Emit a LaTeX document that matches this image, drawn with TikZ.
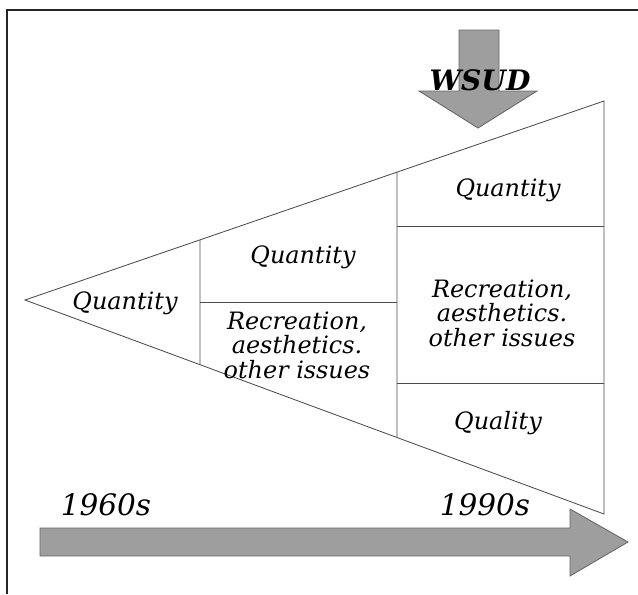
\documentclass[tikz,border=0pt]{standalone}
\usepackage{fontspec}
\setmainfont{DejaVu Serif}
\usepackage{tikz}
\usetikzlibrary{calc,positioning}

\tikzset{
  lbl/.style={font=\itshape\fontsize{17}{17.5}\selectfont, align=center, inner sep=0pt},
  yearlbl/.style={font=\itshape\fontsize{21}{24}\selectfont, inner sep=0pt},
  part/.style={draw=black!70, line width=0.6pt},
  band/.style={fill=black!38, draw=black!60, line width=0.6pt}
}

\begin{document}
\begin{tikzpicture}[x=0.025cm,y=-0.025cm]
\useasboundingbox (0,0) rectangle (638,594);
% frame
\draw[line width=1.5pt, black!85] (7,594) -- (7,10) -- (638,10);
% triangle
\coordinate (A) at (25,300);
\coordinate (B) at (604,101);
\coordinate (C) at (604,514);
\coordinate (P) at (200,0);
\coordinate (P2) at (200,600);
\coordinate (Q) at (397,0);
\coordinate (Q2) at (397,600);
\coordinate (D) at (intersection of A--B and P--P2);
\coordinate (E) at (intersection of A--C and P--P2);
\coordinate (F) at (intersection of A--B and Q--Q2);
\coordinate (G) at (intersection of A--C and Q--Q2);
\draw[part] (A) -- (B) -- (C) -- cycle;
\draw[part] (D) -- (E) (F) -- (G);
\draw[part] (200,302) coordinate (M1) -- (397,302) coordinate (M2);
\draw[part] (397,226) coordinate (R1) -- (604,226) coordinate (R2);
\draw[part] (397,383) coordinate (R3) -- (604,383) coordinate (R4);
% labels
\node[lbl] (q1) at (125,303) {Quantity};
\node[lbl] (q2) at (303,257) {Quantity};
\node[lbl] (rec2) at (297,345) {Recreation,\\aesthetics.\\other issues};
\node[lbl] (q3) at (508,190) {Quantity};
\node[lbl] (rec3) at (502,313) {Recreation,\\aesthetics.\\other issues};
\node[lbl] (qual) at (498,423) {Quality};
% WSUD arrow
\draw[band] (459,30) -- (499,30) -- (499,91) -- (537,91) -- (478,128)
  -- (419,91) -- (459,91) -- cycle;
\node[font=\bfseries\itshape\fontsize{20}{24}\selectfont, inner sep=0pt] (wsud) at (480,80) {WSUD};
% time arrow
\draw[band] (40,528) -- (570,528) -- (570,509) -- (628,542) -- (570,576)
  -- (570,556) -- (40,556) -- cycle;
\node[yearlbl] (y60) at (106,505) {1960s};
\node[yearlbl] (y90) at (485,505) {1990s};
\end{tikzpicture}
\end{document}
